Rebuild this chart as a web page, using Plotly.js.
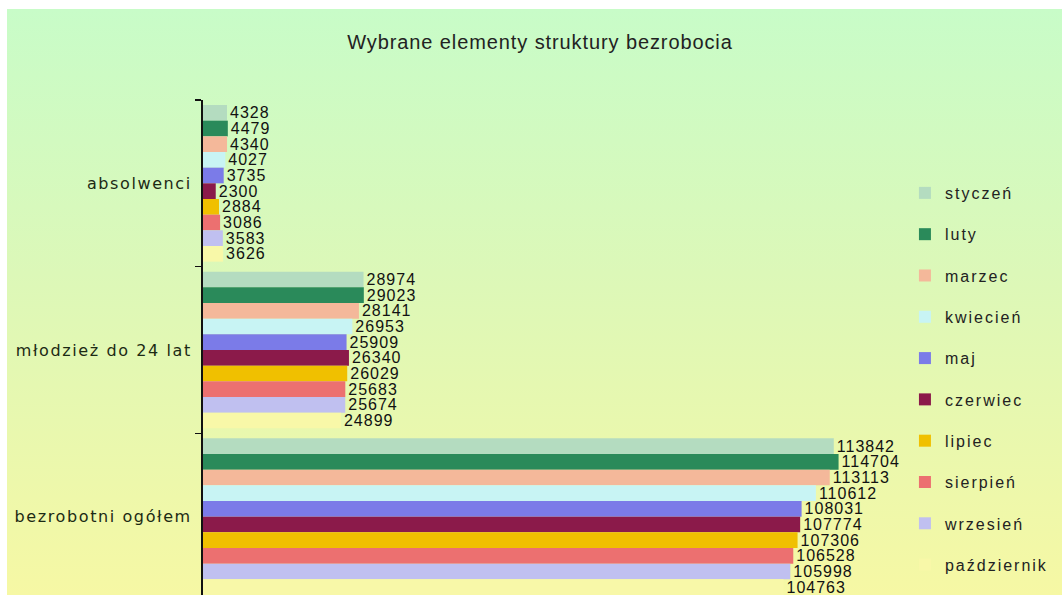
<!DOCTYPE html>
<html>
<head>
<meta charset="utf-8">
<script src="https://cdn.plot.ly/plotly-3.0.1.min.js"></script>
<style>
  html, body { margin: 0; padding: 0; background: #ffffff; width: 1062px; height: 595px; overflow: hidden; }
  #bg { position: absolute; left: 7px; top: 9px; right: 0; bottom: 0;
        background: linear-gradient(to bottom, #c8fcc8 0%, #dcf8b8 45%, #f6f8a4 100%); }
  #chart { position: absolute; left: 0; top: 0; width: 1062px; height: 595px; }
  .gtitle { letter-spacing: 0.9px; }
  .ytick text { letter-spacing: 1.6px; }
  .legendtext { letter-spacing: 2px; }
  .bartext { letter-spacing: 1px; }
</style>
</head>
<body>
<div id="bg"></div>
<div id="chart"></div>
<script>
const categories = ["absolwenci", "młodzież do 24 lat", "bezrobotni ogółem"];
const months = ["styczeń", "luty", "marzec", "kwiecień", "maj", "czerwiec", "lipiec", "sierpień", "wrzesień", "październik"];
const absolwenci = [4328, 4479, 4340, 4027, 3735, 2300, 2884, 3086, 3583, 3626];
const mlodziez = [28974, 29023, 28141, 26953, 25909, 26340, 26029, 25683, 25674, 24899];
const ogolem = [113842, 114704, 113113, 110612, 108031, 107774, 107306, 106528, 105998, 104763];
const colors = ["#b4dcc0", "#2a8a5a", "#f4b89a", "#c8f4f4", "#7b7be8", "#8b1a4a", "#f0c000", "#ec7070", "#c0c0f0", "#f8f8a8"];

const traces = months.map((m, i) => {
  const vals = [absolwenci[i], mlodziez[i], ogolem[i]];
  return {
    type: "bar",
    orientation: "h",
    name: m,
    legendgroup: m,
    y: categories,
    x: vals,
    text: vals.map(String),
    textposition: "outside",
    constraintext: "none",
    cliponaxis: false,
    textfont: { family: "Liberation Sans, Arial, sans-serif", size: 16, color: "#111111" },
    marker: { color: colors[i], line: { width: 0 } },
    hoverinfo: "x+name"
  };
});

const layout = {
  width: 1062,
  height: 595,
  paper_bgcolor: "rgba(0,0,0,0)",
  plot_bgcolor: "rgba(0,0,0,0)",
  margin: { l: 203, r: 142, t: 100, b: 0 },
  title: {
    text: "Wybrane elementy struktury bezrobocia",
    x: 0.47, xref: "paper", xanchor: "center",
    y: 0.929, yref: "container", yanchor: "middle",
    font: { family: "Liberation Sans, Arial, sans-serif", size: 20, color: "#222222" }
  },
  barmode: "group",
  bargap: 0.06,
  bargroupgap: 0,
  xaxis: { visible: false, range: [0, 129400], fixedrange: true },
  yaxis: {
    type: "category",
    categoryorder: "array",
    categoryarray: categories,
    range: [2.47, -0.5],
    showline: true, linecolor: "#111111", linewidth: 2,
    ticks: "outside", tickson: "boundaries", ticklen: 6, tickcolor: "#111111", tickwidth: 1.5,
    ticklabelstandoff: 6,
    showgrid: false, zeroline: false,
    tickfont: { family: "DejaVu Sans, sans-serif", size: 16, color: "#1c2a14" }
  },
  showlegend: true,
  legend: {
    x: 0.979, xanchor: "left",
    y: 0.8465, yanchor: "top",
    traceorder: "grouped",
    tracegroupgap: 17.5,
    bgcolor: "rgba(0,0,0,0)",
    font: { family: "Liberation Sans, Arial, sans-serif", size: 16, color: "#222222" },
    itemwidth: 30
  }
};

Plotly.newPlot("chart", traces, layout, { displayModeBar: false, staticPlot: true });
</script>
</body>
</html>
